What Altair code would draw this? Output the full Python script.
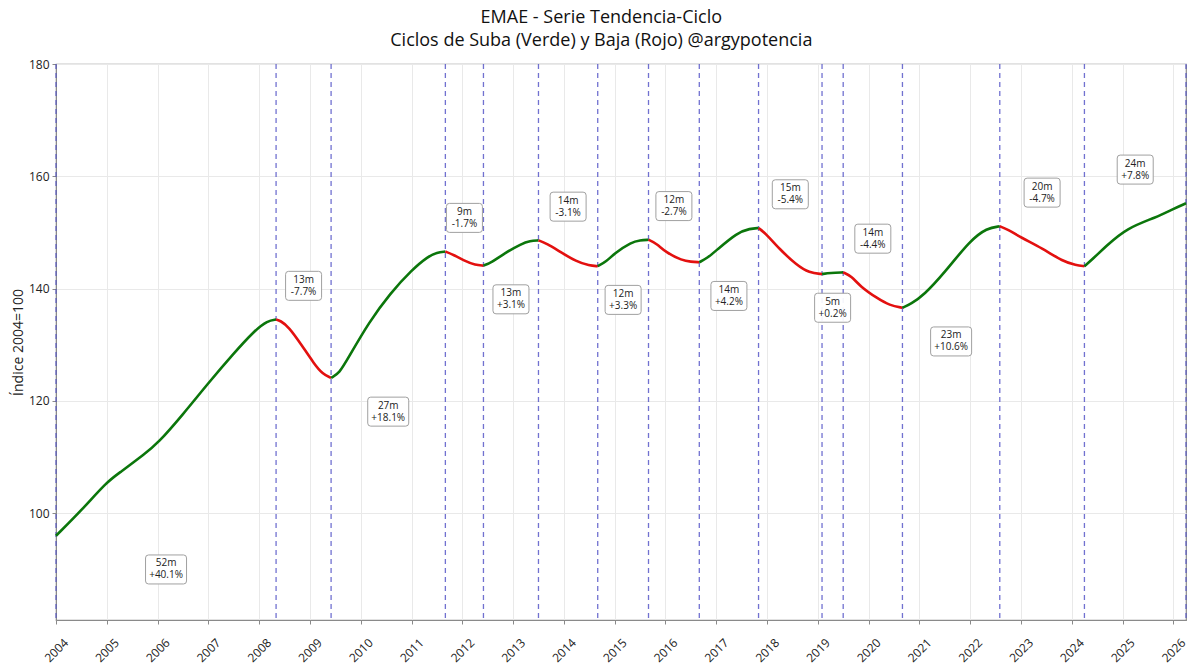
import altair as alt
import pandas as pd

# Turning points of the EMAE trend-cycle series (peaks and troughs)
turn_month = [
    "2004-01", "2008-05", "2009-06", "2011-09", "2012-06", "2013-07",
    "2014-09", "2015-09", "2016-09", "2017-11", "2019-02", "2019-07",
    "2020-09", "2022-08", "2024-04", "2026-04",
]

# Trend-cycle index (2004=100), sampled along the series
curve_month = [
    "2004-01", "2004-07", "2005-01", "2005-04", "2005-10", "2006-01", "2006-07",
    "2007-01", "2007-07", "2007-12", "2008-03", "2008-05",
    "2008-06", "2008-08", "2008-11", "2009-02", "2009-04", "2009-06",
    "2009-08", "2009-10", "2010-03", "2010-08", "2011-01", "2011-05", "2011-07", "2011-09",
    "2011-11", "2012-02", "2012-04", "2012-06",
    "2012-08", "2012-11", "2013-03", "2013-05", "2013-07",
    "2013-09", "2013-12", "2014-04", "2014-07", "2014-09",
    "2014-11", "2015-01", "2015-05", "2015-07", "2015-09",
    "2015-11", "2016-01", "2016-05", "2016-07", "2016-09",
    "2016-11", "2017-01", "2017-06", "2017-09", "2017-11",
    "2018-01", "2018-04", "2018-08", "2018-11", "2019-02",
    "2019-04", "2019-07",
    "2019-09", "2019-11", "2020-03", "2020-06", "2020-09",
    "2020-11", "2021-02", "2021-07", "2022-01", "2022-05", "2022-08",
    "2022-10", "2023-01", "2023-06", "2023-11", "2024-02", "2024-04",
    "2024-06", "2024-09", "2025-02", "2025-09", "2026-01", "2026-04",
]
curve_value = [
    96.0, 100.5, 105.6, 107.2, 110.6, 112.4, 117.6,
    123.2, 128.5, 132.6, 134.3, 134.5,
    134.3, 133.2, 130.0, 126.6, 124.8, 124.1,
    125.0, 127.6, 134.1, 139.2, 143.3, 145.8, 146.4, 146.6,
    146.0, 144.8, 144.2, 144.1,
    144.7, 146.3, 148.0, 148.5, 148.6,
    148.0, 146.6, 144.8, 144.1, 144.0,
    144.8, 146.3, 148.3, 148.6, 148.7,
    148.0, 146.5, 145.0, 144.8, 144.7,
    145.5, 146.8, 150.0, 150.7, 150.8,
    149.6, 147.0, 144.2, 142.8, 142.6,
    142.8, 142.9,
    142.2, 140.4, 138.3, 137.0, 136.6,
    137.3, 138.8, 142.9, 148.6, 150.8, 151.1,
    150.5, 149.1, 147.2, 144.8, 144.2, 144.0,
    145.3, 147.5, 150.8, 152.7, 154.2, 155.2,
]

year_ticks = list(range(2004, 2027))
y_ticks = [100, 120, 140, 160, 180]

GREEN = "#0b760b"
RED = "#e3100f"
FONT = "Open Sans"


def month_index(m):
    y, mo = m.split("-")
    return int(y) * 12 + int(mo) - 1


def to_year(m):
    return month_index(m) / 12.0


pts = pd.DataFrame({"month": curve_month, "value": curve_value})
pts["mi"] = pts["month"].map(month_index)
pts["t"] = pts["month"].map(to_year)
value_at = dict(zip(pts["mi"], pts["value"]))

turn_idx = [month_index(m) for m in turn_month]

seg_rows = []
label_rows = []
n_seg = len(turn_idx) - 1
for s in range(n_seg):
    a, b = turn_idx[s], turn_idx[s + 1]
    v0, v1 = value_at[a], value_at[b]
    phase = "Suba" if v1 > v0 else "Baja"
    sub = pts[(pts["mi"] >= a) & (pts["mi"] <= b)]
    for _, r in sub.iterrows():
        seg_rows.append({"t": r["t"], "value": r["value"], "seg": s, "fase": phase})
    pct = v1 / v0 - 1
    pct_txt = f"{pct * 100:+.1f}%"
    text = f"{b - a}m\n{pct_txt}"
    if s == n_seg - 1:
        ly = v1 + 6          # ongoing cycle: note above its latest value
    elif phase == "Suba":
        ly = v0 - 6
    else:
        ly = v0 + 6
    width_class = "w6" if len(pct_txt) >= 6 else "w5"
    label_rows.append({"t": (a + b) / 24.0, "ly": ly, "text": text, "box": width_class})

segs = pd.DataFrame(seg_rows)
labels = pd.DataFrame(label_rows)
turns = pd.DataFrame({"t": [i / 12.0 for i in turn_idx]})


def box_path(hw, hh, r):
    return (
        f"M{-hw + r},{-hh} L{hw - r},{-hh} Q{hw},{-hh} {hw},{-hh + r} "
        f"L{hw},{hh - r} Q{hw},{hh} {hw - r},{hh} L{-hw + r},{hh} "
        f"Q{-hw},{hh} {-hw},{hh - r} L{-hw},{-hh + r} Q{-hw},{-hh} {-hw + r},{-hh} Z"
    )


BOX = 41.0  # symbol size base in px
path_w6 = box_path(1.0, 29 / BOX, 3 / (BOX / 2))
path_w5 = box_path(36 / BOX, 29 / BOX, 3 / (BOX / 2))

x_scale = alt.Scale(domain=[2004, 2026.25], nice=False, zero=False)
y_scale = alt.Scale(domain=[81, 180], nice=False, zero=False)

x_enc = alt.X(
    "t:Q", scale=x_scale, title=None,
    axis=alt.Axis(values=year_ticks, format="d", labelAngle=315, labelAlign="center",
                  labelBaseline="middle", labelPadding=26, grid=True),
)

rules = alt.Chart(turns).mark_rule(
    strokeDash=[5, 4], color="#4e4ec4", strokeWidth=1.3, opacity=0.8
).encode(x=x_enc)

line = alt.Chart(segs).mark_line(strokeWidth=2.6, interpolate="basis").encode(
    x=x_enc,
    y=alt.Y("value:Q", scale=y_scale, title="Índice 2004=100",
            axis=alt.Axis(values=y_ticks, grid=True)),
    color=alt.Color("fase:N", scale=alt.Scale(domain=["Suba", "Baja"], range=[GREEN, RED]),
                    legend=None),
    detail="seg:N",
    order=alt.Order("t:Q"),
)

boxes = alt.Chart(labels).mark_point(
    filled=True, fill="white", fillOpacity=0.92, stroke="#a0a0a0", strokeWidth=1,
    opacity=1, size=BOX * BOX,
).encode(
    x=alt.X("t:Q", scale=x_scale),
    y=alt.Y("ly:Q", scale=y_scale),
    shape=alt.Shape("box:N", scale=alt.Scale(domain=["w5", "w6"], range=[path_w5, path_w6]),
                    legend=None),
)

texts = alt.Chart(labels).mark_text(
    lineBreak="\n", fontSize=10, font=FONT, color="#222222", align="center",
    baseline="middle", lineHeight=12, dy=-6,
).encode(
    x=alt.X("t:Q", scale=x_scale),
    y=alt.Y("ly:Q", scale=y_scale),
    text="text:N",
)

chart = alt.layer(rules, line, boxes, texts).properties(
    width=1130,
    height=556,
    background="white",
    title=alt.TitleParams(
        ["EMAE - Serie Tendencia-Ciclo", "Ciclos de Suba (Verde) y Baja (Rojo) @argypotencia"],
        anchor="middle", frame="bounds", fontSize=18, font=FONT, fontWeight="normal",
        color="#111111", lineHeight=23, baseline="bottom", offset=-10,
    ),
    autosize=alt.AutoSizeParams(type="none"),
    padding={"left": 56, "top": 64, "right": 14, "bottom": 47},
).configure_view(
    stroke="#8a8a8a", strokeWidth=1.2,
).configure_axis(
    labelFont=FONT, labelFontSize=12, labelColor="#222222",
    titleFont=FONT, titleFontSize=14, titleColor="#222222", titleFontWeight="normal",
    gridColor="#e9e9e9", gridWidth=1, domainColor="#8a8a8a", tickColor="#8a8a8a",
    tickSize=4, labelPadding=3, titlePadding=3,
)

chart.save("out.html", embed_options={"renderer": "svg", "actions": False})
